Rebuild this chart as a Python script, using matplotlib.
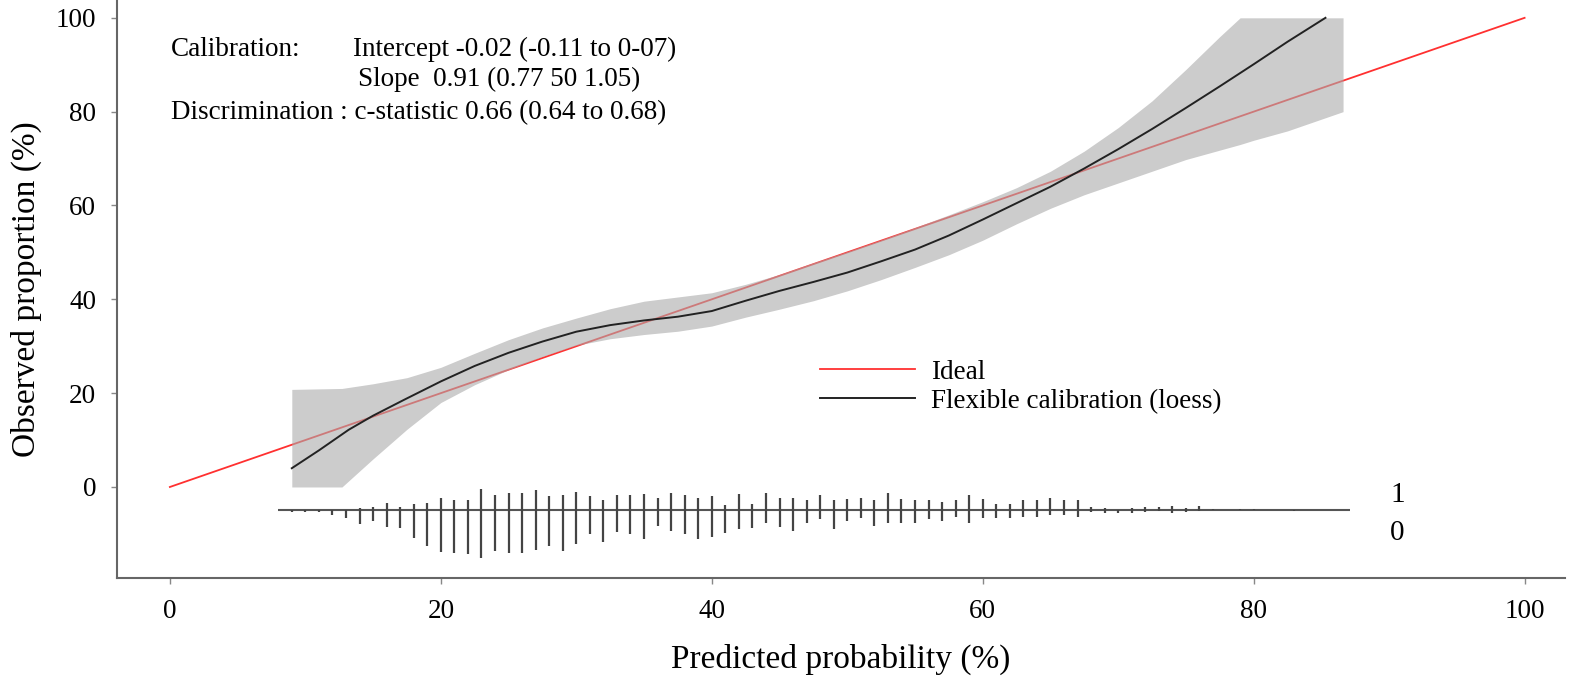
import numpy as np
import matplotlib
matplotlib.use('Agg')
import matplotlib.pyplot as plt

plt.rcParams['font.family'] = ['Liberation Serif', 'DejaVu Serif']

# flexible calibration curve (loess), in %
curve_x = [9, 11, 13.2, 15, 17.3, 20, 22.5, 25, 27.5, 30, 32.5, 35, 37.5, 40,
           42.5, 45, 47.5, 50, 52.5, 55, 57.5, 60, 62.5, 65, 67.5, 70, 72.5,
           75, 77.5, 80, 82.5, 85.3]
curve_y = [4.0, 7.8, 12.2, 15.2, 18.6, 22.5, 25.8, 28.6, 31.0, 33.1, 34.5,
           35.5, 36.3, 37.5, 39.7, 41.8, 43.7, 45.7, 48.1, 50.6, 53.6, 57.0,
           60.5, 64.0, 67.9, 72.0, 76.3, 80.8, 85.4, 90.1, 94.9, 100.0]

# confidence band
band_x = [9, 12.7, 15, 17.5, 20, 22.5, 25, 27.5, 30, 32.5, 35, 37.5, 40, 42.5,
          45, 47.5, 50, 52.5, 55, 57.5, 60, 62.5, 65, 67.5, 70, 72.5, 75,
          77.5, 79, 80, 82.5, 85, 86.6]
band_upper = [20.8, 21.0, 22.0, 23.3, 25.5, 28.5, 31.4, 33.9, 36.0, 38.0,
              39.6, 40.5, 41.4, 43.2, 45.3, 47.8, 50.2, 52.7, 55.3, 58.0,
              60.8, 63.8, 67.3, 71.6, 76.6, 82.3, 89.0, 96.0, 100, 100, 100,
              100, 100]
band_lower = [0, 0, 6.0, 12.3, 18.0, 21.8, 25.0, 27.8, 30.2, 31.6, 32.5,
              33.2, 34.3, 36.2, 37.9, 39.7, 41.8, 44.2, 46.8, 49.5, 52.6,
              56.1, 59.4, 62.3, 64.8, 67.3, 69.8, 71.8, 73.0, 73.9, 75.9,
              78.4, 80.0]

# spike histogram of predicted probabilities (1% bins), events / non-events
bins = list(range(9, 84))
events = [0, 0, 0, 0, 0, 2, 3, 7, 3, 6, 7, 12, 10, 10, 21, 15, 17, 17, 20,
          14, 15, 18, 14, 10, 15, 15, 16, 12, 17, 15, 12, 14, 5, 16, 6, 17,
          12, 12, 10, 15, 10, 11, 12, 10, 17, 11, 10, 10, 8, 10, 15, 11, 6,
          6, 10, 10, 12, 10, 10, 3, 2, 0, 2, 3, 3, 4, 2, 4, 1, 0, 1, 1, 0,
          0, 0]
nonevents = [2, 2, 2, 5, 8, 14, 11, 17, 18, 28, 36, 42, 43, 44, 48, 41, 43,
             43, 40, 36, 41, 34, 24, 32, 22, 24, 29, 16, 21, 24, 29, 27, 23,
             19, 18, 13, 17, 21, 13, 9, 19, 11, 8, 16, 13, 13, 13, 9, 11, 7,
             13, 8, 8, 8, 7, 7, 5, 5, 7, 2, 3, 3, 3, 2, 1, 3, 2, 1, 0, 0, 0,
             0, 0, 0, 1]

stats_lines = ['Calibration:', 'Intercept -0.02 (-0.11 to 0-07)',
               'Slope  0.91 (0.77 50 1.05)',
               'Discrimination : c-statistic 0.66 (0.64 to 0.68)']
ticks = [0, 20, 40, 60, 80, 100]

fig = plt.figure(figsize=(15.69, 6.8), dpi=100)
ax = fig.add_axes([0.0746, 0.15, 0.923, 0.85])

ax.plot([0, 100], [0, 100], color='#ff3030', lw=1.3, label='Ideal', zorder=2)
ax.fill_between(band_x, band_lower, band_upper, color='#aaaaaa', alpha=0.6,
                lw=0, zorder=3)
ax.plot(curve_x, curve_y, color='#222222', lw=1.4,
        label='Flexible calibration (loess)', zorder=4)

# spike histogram below the curve
base = -4.9
scale = 1 / 4.69
ev = np.array(events) * scale
nev = np.array(nonevents) * scale
ax.hlines(base, 8.0, 87.1, color='#555555', lw=1.5, zorder=4)
ax.vlines(bins, base, base + ev, color='#444444', lw=1.6, zorder=4)
ax.vlines(bins, base - nev, base, color='#444444', lw=1.6, zorder=4)
ax.text(90.6, -1.7, '1', fontsize=21, ha='center', va='center')
ax.text(90.6, -9.8, '0', fontsize=21, ha='center', va='center')

fs = 19.5
ax.text(0.1, 93.2, stats_lines[0], fontsize=fs, va='center')
ax.text(13.5, 93.2, stats_lines[1], fontsize=fs, va='center')
ax.text(13.9, 86.8, stats_lines[2], fontsize=fs, va='center')
ax.text(0.1, 79.7, stats_lines[3], fontsize=fs, va='center')

ax.legend(loc='center left', bbox_to_anchor=(0.4855, 0.331), frameon=False,
          fontsize=fs, handlelength=3.5, handletextpad=0.6, borderpad=0,
          borderaxespad=0, labelspacing=0.15)

ax.set_xlim(-3.9, 103.0)
ax.set_ylim(-19.4, 103.8)
ax.set_xticks(ticks)
ax.set_yticks(ticks)
ax.tick_params(direction='out', length=4, width=1, color='#888888',
               labelsize=19.5, pad=11)
for side in ['top', 'right']:
    ax.spines[side].set_visible(False)
for side in ['left', 'bottom']:
    ax.spines[side].set_color('#666666')
    ax.spines[side].set_linewidth(1.5)

ax.set_xlabel('Predicted probability (%)', fontsize=24, labelpad=14)
ax.set_ylabel('Observed proportion (%)', fontsize=24, labelpad=10)

fig.savefig('out.png', dpi=100)
